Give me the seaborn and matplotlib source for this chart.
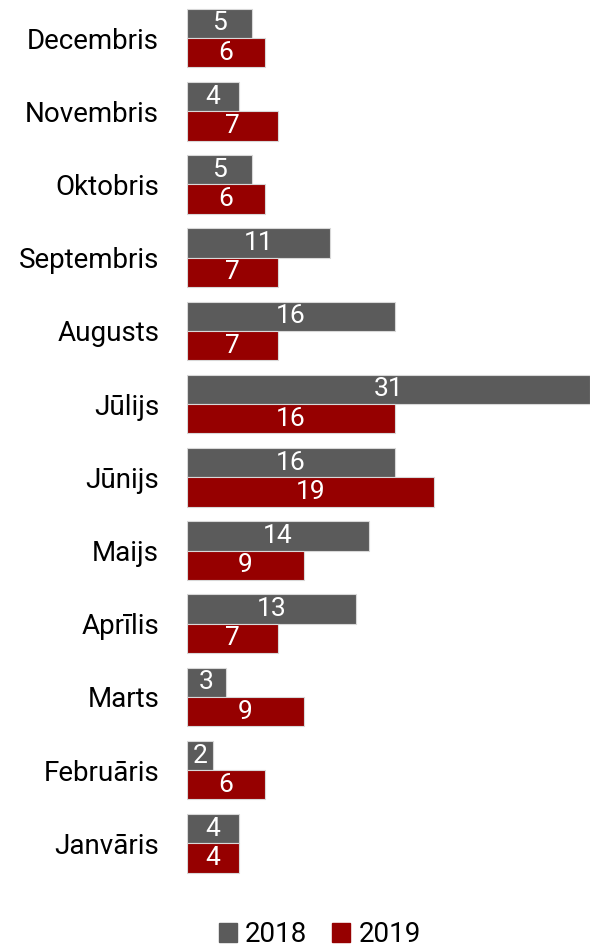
import matplotlib
matplotlib.use('Agg')
import matplotlib.pyplot as plt
import seaborn as sns
import pandas as pd

months = ['Janvāris', 'Februāris', 'Marts', 'Aprīlis', 'Maijs', 'Jūnijs',
          'Jūlijs', 'Augusts', 'Septembris', 'Oktobris', 'Novembris', 'Decembris']
values_2018 = [4, 2, 3, 13, 14, 16, 31, 16, 11, 5, 4, 5]
values_2019 = [4, 6, 9, 7, 9, 19, 16, 7, 7, 6, 7, 6]
years = ['2018', '2019']
colors = ['#5B5B5B', '#960000']

sns.set_style('white')
plt.rcParams['font.family'] = ['Roboto', 'DejaVu Sans']

df = pd.DataFrame({
    'month': months * 2,
    'value': values_2018 + values_2019,
    'year': [years[0]] * len(months) + [years[1]] * len(months),
})

fig = plt.figure(figsize=(5.9, 9.49), dpi=100)
ax = fig.add_axes([187 / 590, 1 - 880 / 949, 1 - 187 / 590, (880 - 1.4) / 949])

order = months[::-1]
sns.barplot(data=df, y='month', x='value', hue='year', order=order, hue_order=years,
            palette=colors, saturation=1, orient='h', width=0.8,
            edgecolor='#d8d8d8', linewidth=0.8, ax=ax, legend=False)

ax.set_xlim(0, 31)
ax.set_ylim(11.5, -0.5)
for container in ax.containers:
    ax.bar_label(container, label_type='center', color='white', fontsize=19, fmt='%d')

ax.set_xlabel('')
ax.set_ylabel('')
ax.set_xticks([])
ax.tick_params(axis='y', length=0, pad=20, labelsize=20, labelcolor='black')
for s in ax.spines.values():
    s.set_visible(False)

handles = [plt.Rectangle((0, 0), 1, 1, color=c) for c in colors]
fig.legend(handles, years, loc='center', bbox_to_anchor=(0.542, 0.015), ncol=2,
           frameon=False, fontsize=20, labelcolor='black', handlelength=0.65,
           handleheight=0.65, handletextpad=0.3, columnspacing=0.9)

fig.savefig('out.png', dpi=100, facecolor='white')
